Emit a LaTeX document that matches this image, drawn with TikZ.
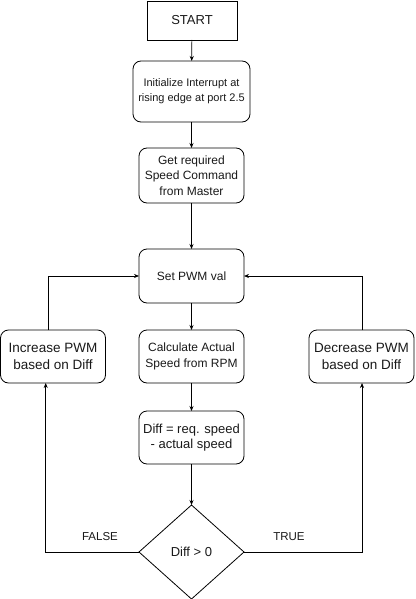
\documentclass[tikz,border=0pt]{standalone}
\usepackage{fontspec}
\setmainfont{Liberation Sans}
\usetikzlibrary{shapes.geometric,arrows.meta}
\begin{document}
\begin{tikzpicture}[x=1pt,y=-1pt,
  every node/.style={inner sep=0pt, outer sep=0pt, align=center, text=black!90},
  box/.style={draw, line width=0.8pt, rounded corners=8pt, minimum width=105pt, minimum height=54pt},
  plainbox/.style={draw, line width=0.8pt, minimum width=90pt, minimum height=39pt},
  cond/.style={draw, line width=0.8pt, diamond, minimum width=105pt, minimum height=94pt},
  flow/.style={draw, line width=0.7pt, -{Stealth[length=5pt,width=4pt]}},
  lbl/.style={font=\fontsize{11.5}{13}\selectfont}
]
\useasboundingbox (0,0) rectangle (415,599);
\node[plainbox, font=\fontsize{13}{15}\selectfont] (start) at (192,20.5) {START};
\node[box, minimum width=117pt, minimum height=61pt, font=\fontsize{11}{15}\selectfont] (init) at (191.5,91.5) {Initialize Interrupt at\\rising edge at port 2.5};
\node[box, minimum height=55pt, font=\fontsize{12}{15.5}\selectfont] (get) at (191.5,175.5) {Get required\\Speed Command\\from Master};
\node[box, font=\fontsize{12}{15}\selectfont] (set) at (191.5,276) {Set PWM val};
\node[box, minimum height=53pt, font=\fontsize{13.5}{16.5}\selectfont] (inc) at (53,356.5) {Increase PWM\\based on Diff};
\node[box, minimum height=53pt, font=\fontsize{12}{16}\selectfont] (calc) at (191.5,356.5) {Calculate Actual\\Speed from RPM};
\node[box, minimum height=53pt, font=\fontsize{13.5}{16.5}\selectfont] (dec) at (361.5,356.5) {Decrease PWM\\based on Diff};
\node[box, minimum height=53pt, font=\fontsize{13}{15.7}\selectfont] (diff) at (191.5,437.5) {Diff = req. speed\\- actual speed};
\node[cond, font=\fontsize{13}{15}\selectfont] (dec0) at (191.5,552) {Diff > 0};
\node[lbl] (false) at (100,537) {FALSE};
\node[lbl] (true) at (289,537) {TRUE};
\coordinate (lb) at (45.7,552);
\coordinate (rb) at (362,552);
\coordinate (lt) at (48,276);
\coordinate (rt) at (362,276);
\path[flow] (start) -- (init);
\path[flow] (init) -- (get);
\path[flow] (get) -- (set);
\path[flow] (set) -- (calc);
\path[flow] (calc) -- (diff);
\path[flow] (diff) -- (dec0);
\path[flow] (dec0.west) -- (lb) -- (lb |- inc.south);
\path[flow] (dec0.east) -- (rb) -- (rb |- dec.south);
\path[flow] (lt |- inc.north) -- (lt) -- (set.west);
\path[flow] (rt |- dec.north) -- (rt) -- (set.east);
\end{tikzpicture}
\end{document}
